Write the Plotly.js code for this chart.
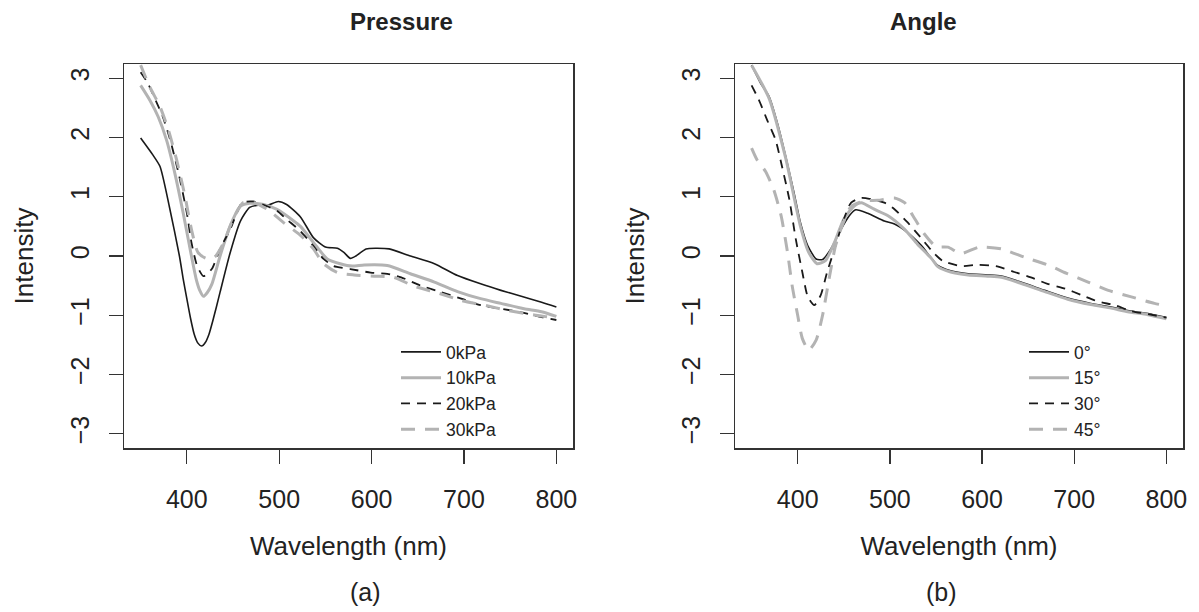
<!DOCTYPE html>
<html>
<head>
<meta charset="utf-8">
<script src="https://cdn.plot.ly/plotly-3.0.1.min.js"></script>
<style>html,body{margin:0;padding:0;background:#fff;}#chart{width:1199px;height:612px;}</style>
</head>
<body>
<div id="chart"></div>
<script>
// ---- Data ----
const panelTitles = ["Pressure", "Angle"];
const panelLabels = ["(a)", "(b)"];
const xTicks = [400, 500, 600, 700, 800];
const yTicks = [-3, -2, -1, 0, 1, 2, 3];

// Pressure panel
const p0_wl = [350,363,371,381,392,396,400,404,408,412,416,420,424,428,432,436,447,458,468,479,488,499,508,523,537,550,563,570,577,583,594,606,619,642,668,693,718,740,762,784,800];
const p0_I  = [1.99,1.71,1.51,0.84,0.0,-0.38,-0.72,-1.05,-1.32,-1.47,-1.52,-1.46,-1.32,-1.10,-0.86,-0.61,0.06,0.59,0.82,0.86,0.86,0.92,0.87,0.66,0.31,0.15,0.13,0.06,-0.04,0.0,0.12,0.13,0.12,0.0,-0.13,-0.33,-0.47,-0.58,-0.68,-0.78,-0.86];

const p10_wl = [350,360,369,378,387,396,405,410,414,418,422,427,436,447,458,468,483,497,515,523,537,552,566,579,592,617,642,668,693,718,740,765,784,800];
const p10_I  = [2.88,2.63,2.35,1.96,1.40,0.73,0.0,-0.38,-0.58,-0.68,-0.62,-0.48,0.0,0.51,0.84,0.89,0.87,0.79,0.60,0.50,0.23,-0.05,-0.13,-0.17,-0.15,-0.16,-0.30,-0.44,-0.60,-0.72,-0.80,-0.89,-0.94,-1.02];

const p20_wl = [350,358,367,374,382,391,400,405,411,418,427,436,447,460,472,487,498,508,523,537,548,559,577,599,617,632,653,675,697,718,740,762,784,800];
const p20_I  = [3.10,2.91,2.60,2.35,1.96,1.40,0.73,0.23,-0.16,-0.34,-0.22,0.12,0.45,0.90,0.92,0.84,0.76,0.62,0.42,0.17,-0.05,-0.17,-0.22,-0.28,-0.30,-0.36,-0.50,-0.61,-0.72,-0.83,-0.89,-0.95,-1.03,-1.08];

const p30_wl = [350,360,371,380,389,398,405,412,421,430,440,450,461,472,487,505,523,537,548,563,581,603,624,646,671,697,722,748,769,791,800];
const p30_I  = [3.22,2.85,2.52,2.13,1.62,1.01,0.45,0.06,-0.04,-0.02,0.23,0.62,0.90,0.90,0.79,0.56,0.35,0.12,-0.13,-0.28,-0.32,-0.34,-0.36,-0.51,-0.62,-0.75,-0.83,-0.92,-0.98,-1.03,-1.07];

// Angle panel
const a0_wl = [350,360,369,378,387,396,403,411,420,427,436,447,456,463,476,494,505,519,534,552,566,585,606,621,642,668,693,718,740,758,780,800];
const a0_I  = [3.22,2.91,2.69,2.24,1.68,1.07,0.56,0.17,-0.05,-0.06,0.12,0.45,0.68,0.78,0.72,0.59,0.54,0.40,0.18,-0.16,-0.25,-0.30,-0.32,-0.34,-0.44,-0.58,-0.71,-0.80,-0.86,-0.92,-0.97,-1.04];

const a15_wl = [350,369,387,403,412,421,430,440,450,461,469,483,498,516,530,545,552,566,585,606,621,642,668,693,718,740,758,780,800];
const a15_I  = [3.22,2.66,1.65,0.50,0.06,-0.13,-0.08,0.23,0.62,0.84,0.90,0.79,0.68,0.45,0.20,-0.04,-0.18,-0.27,-0.32,-0.34,-0.36,-0.46,-0.60,-0.73,-0.82,-0.88,-0.94,-0.99,-1.06];

const a30_wl = [350,358,367,376,383,391,398,405,411,418,425,432,441,450,458,469,483,494,505,519,533,546,557,577,595,615,635,653,671,690,708,726,744,762,780,800];
const a30_I  = [2.88,2.63,2.29,1.96,1.51,0.95,0.28,-0.27,-0.69,-0.83,-0.66,-0.27,0.17,0.62,0.90,0.98,0.95,0.90,0.79,0.57,0.32,0.08,-0.08,-0.17,-0.15,-0.17,-0.27,-0.36,-0.47,-0.55,-0.66,-0.77,-0.83,-0.93,-0.98,-1.04];

const a45_wl = [350,356,365,374,382,389,394,400,405,412,420,427,434,441,449,458,472,487,505,516,525,537,550,563,577,597,621,646,671,693,715,737,762,787,800];
const a45_I  = [1.82,1.62,1.43,1.12,0.68,0.06,-0.50,-1.0,-1.39,-1.59,-1.42,-1.0,-0.39,0.17,0.54,0.84,0.93,0.94,0.98,0.90,0.68,0.38,0.16,0.15,0.04,0.15,0.12,-0.02,-0.15,-0.30,-0.44,-0.58,-0.69,-0.80,-0.84];

const pressureNames = ["0kPa", "10kPa", "20kPa", "30kPa"];
const angleNames = ["0°", "15°", "30°", "45°"];

// ---- Styles ----
const BLACK = "#1a1a1a", GRAY = "#b3b3b3";
const styles = [
  {color: BLACK, width: 1.6, dash: "solid"},
  {color: GRAY, width: 3, dash: "solid"},
  {color: BLACK, width: 1.8, dash: "9px,7px"},
  {color: GRAY, width: 3, dash: "14px,10px"}
];

const pData = [[p0_wl,p0_I],[p10_wl,p10_I],[p20_wl,p20_I],[p30_wl,p30_I]];
const aData = [[a0_wl,a0_I],[a15_wl,a15_I],[a30_wl,a30_I],[a45_wl,a45_I]];

const traces = [];
pData.forEach((d, i) => traces.push({
  x: d[0], y: d[1], name: pressureNames[i], type: "scatter", mode: "lines",
  line: Object.assign({shape: "spline", smoothing: 0.6}, styles[i]),
  xaxis: "x", yaxis: "y", legend: "legend"
}));
aData.forEach((d, i) => traces.push({
  x: d[0], y: d[1], name: angleNames[i], type: "scatter", mode: "lines",
  line: Object.assign({shape: "spline", smoothing: 0.6}, styles[i]),
  xaxis: "x2", yaxis: "y2", legend: "legend2"
}));

const FONT = "Liberation Sans, Arial, Helvetica, sans-serif";
const TXT = "#222";
const W = 1199, H = 612;
const fmt = v => (v < 0 ? "\u2212" + Math.abs(v) : String(v));

function xAxis(domain, anchor) {
  return {
    domain: domain, anchor: anchor, range: [332, 818],
    tickvals: xTicks, ticktext: xTicks.map(fmt),
    ticks: "outside", ticklen: 14, tickwidth: 1.3, tickcolor: "#333",
    showline: true, mirror: true, linecolor: "#333", linewidth: 1.5,
    showgrid: false, zeroline: false,
    tickfont: {family: FONT, size: 25, color: TXT},
    ticklabelstandoff: 14,
    title: {text: "Wavelength (nm)", font: {family: FONT, size: 26, color: TXT}, standoff: 25},
    automargin: false, fixedrange: true
  };
}
function yAxis(anchor) {
  return {
    domain: [(H-448)/H, (H-64)/H], anchor: anchor, range: [-3.24, 3.24],
    tickvals: yTicks, ticktext: yTicks.map(fmt), tickangle: -90,
    ticks: "outside", ticklen: 14, tickwidth: 1.3, tickcolor: "#333",
    showline: true, mirror: true, linecolor: "#333", linewidth: 1.5,
    showgrid: false, zeroline: false,
    tickfont: {family: FONT, size: 25, color: TXT},
    ticklabelstandoff: 10,
    title: {text: "Intensity", font: {family: FONT, size: 26, color: TXT}, standoff: 24},
    automargin: false, fixedrange: true
  };
}

const legendBase = {
  font: {family: FONT, size: 17.5, color: TXT},
  bgcolor: "rgba(0,0,0,0)", borderwidth: 0,
  xanchor: "left", yanchor: "top", itemwidth: 40, tracegroupgap: 0,
  itemclick: false, itemdoubleclick: false
};

const layout = {
  width: W, height: H,
  margin: {l: 0, r: 0, t: 0, b: 0},
  paper_bgcolor: "#fff", plot_bgcolor: "#fff",
  showlegend: true,
  xaxis: xAxis([124/W, 573/W], "y"),
  yaxis: yAxis("x"),
  xaxis2: xAxis([735/W, 1183/W], "y2"),
  yaxis2: yAxis("x2"),
  legend: Object.assign({}, legendBase, {x: 396/W, y: (H-334)/H}),
  legend2: Object.assign({}, legendBase, {x: 1024/W, y: (H-334)/H}),
  annotations: [
    {text: "<b>" + panelTitles[0] + "</b>", x: 348/W, y: 1-22/H, xref: "paper", yref: "paper", yanchor: "middle", showarrow: false, font: {family: FONT, size: 24, color: TXT}},
    {text: "<b>" + panelTitles[1] + "</b>", x: 959/W, y: 1-22/H, xref: "paper", yref: "paper", yanchor: "middle", showarrow: false, font: {family: FONT, size: 24, color: TXT}},
    {text: panelLabels[0], x: 348/W, y: 1-592/H, xref: "paper", yref: "paper", yanchor: "middle", showarrow: false, font: {family: FONT, size: 25, color: TXT}},
    {text: panelLabels[1], x: 959/W, y: 1-592/H, xref: "paper", yref: "paper", yanchor: "middle", showarrow: false, font: {family: FONT, size: 25, color: TXT}}
  ]
};

Plotly.newPlot("chart", traces, layout, {staticPlot: true, displayModeBar: false});
</script>
</body>
</html>
